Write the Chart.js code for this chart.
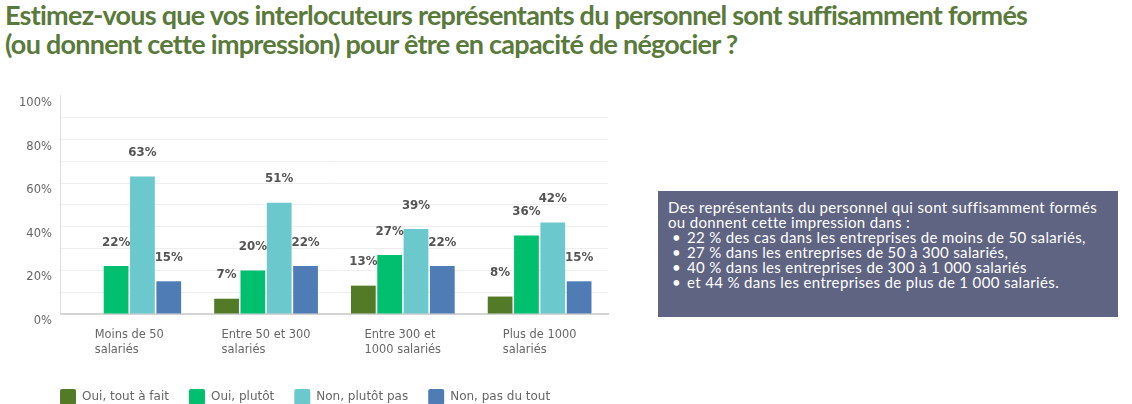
<!DOCTYPE html>
<html>
<head>
<meta charset="utf-8">
<script src="https://cdn.jsdelivr.net/npm/chart.js@4.4.1/dist/chart.umd.min.js"></script>
<style>
  html, body { margin: 0; padding: 0; background: #fff; overflow: hidden; }
  body { width: 1132px; height: 404px; position: relative; }
  #title {
    position: absolute; left: 5px; top: 0px;
    font-family: Lato, sans-serif; font-weight: 700; font-size: 27px;
    line-height: 29px; letter-spacing: -0.75px; color: #5a7a3c;
    white-space: nowrap;
  }
  #wrap { position: absolute; left: 0; top: 80px; width: 620px; height: 335px; }
  #note {
    position: absolute; left: 658px; top: 191px; width: 460px; height: 126px;
    box-sizing: border-box; padding: 9px 8px 0 10px;
    background: #5f6483; color: #fff;
    font-family: Lato, sans-serif; font-size: 15px; line-height: 15px;
    letter-spacing: 0.35px; white-space: nowrap;
  }
  #note .b { padding-left: 19px; position: relative; }
  #note .b::before { content: "•"; position: absolute; left: 4px; }
</style>
</head>
<body>
<div id="title">Estimez-vous que vos interlocuteurs représentants du personnel sont suffisamment formés<br>(ou donnent cette impression) pour être en capacité de négocier ?</div>
<div id="wrap"><canvas id="chart"></canvas></div>
<div id="note">
  <div>Des représentants du personnel qui sont suffisamment formés</div>
  <div>ou donnent cette impression dans :</div>
  <div class="b">22 % des cas dans les entreprises de moins de 50 salariés,</div>
  <div class="b">27 % dans les entreprises de 50 à 300 salariés,</div>
  <div class="b">40 % dans les entreprises de 300 à 1 000 salariés</div>
  <div class="b">et 44 % dans les entreprises de plus de 1 000 salariés.</div>
</div>
<script>
const categories = [
  ['Moins de 50', 'salariés'],
  ['Entre 50 et 300', 'salariés'],
  ['Entre 300 et', '1000 salariés'],
  ['Plus de 1000', 'salariés']
];
const seriesNames = ['Oui, tout à fait', 'Oui, plutôt', 'Non, plutôt pas', 'Non, pas du tout'];
const ouiToutAFait = [0, 7, 13, 8];
const ouiPlutot = [22, 20, 27, 36];
const nonPlutotPas = [63, 51, 39, 42];
const nonPasDuTout = [15, 22, 22, 15];
const colors = ['#537a26', '#00bf6f', '#6bc8cd', '#507cb6'];

const allSeries = [ouiToutAFait, ouiPlutot, nonPlutotPas, nonPasDuTout];

// value labels above the bars
const valueLabels = {
  id: 'valueLabels',
  afterDatasetsDraw(chart) {
    const ctx = chart.ctx;
    ctx.save();
    ctx.font = 'bold 11.8px "DejaVu Sans", sans-serif';
    ctx.fillStyle = '#545454';
    ctx.textAlign = 'center';
    ctx.textBaseline = 'middle';
    chart.data.datasets.forEach((ds, i) => {
      chart.getDatasetMeta(i).data.forEach((bar, j) => {
        const v = ds.data[j];
        if (!v) return;
        ctx.fillText(v + '%', bar.x, bar.y - 23.5);
      });
    });
    ctx.restore();
  }
};

// category labels: block centered under the group, lines left-aligned
const xLabels = {
  id: 'xLabels',
  afterDraw(chart) {
    const ctx = chart.ctx;
    const x = chart.scales.x;
    ctx.save();
    ctx.font = '11.4px "DejaVu Sans", sans-serif';
    ctx.fillStyle = '#666';
    ctx.textAlign = 'left';
    ctx.textBaseline = 'middle';
    categories.forEach((lines, i) => {
      const w = Math.max(...lines.map(l => ctx.measureText(l).width));
      const cx = x.getPixelForValue(i);
      lines.forEach((l, k) => {
        ctx.fillText(l, cx - w / 2, chart.chartArea.bottom + 21 + k * 15);
      });
    });
    ctx.restore();
  }
};

// legend starts a little right of the layout padding
const legendShift = {
  id: 'legendShift',
  afterLayout(chart) {
    chart.legend.left = 40;
  }
};

new Chart(document.getElementById('chart'), {
  type: 'bar',
  data: {
    labels: categories.map(c => c.join(' ')),
    datasets: seriesNames.map((name, i) => ({
      label: name,
      data: allSeries[i],
      backgroundColor: colors[i],
      borderWidth: 0,
      categoryPercentage: 0.77,
      barPercentage: 0.94
    }))
  },
  options: {
    responsive: true,
    maintainAspectRatio: false,
    animation: false,
    layout: { padding: { left: 10, right: 12, top: 7, bottom: 0 } },
    plugins: {
      tooltip: { enabled: false },
      legend: {
        position: 'bottom',
        align: 'start',
        labels: {
          boxWidth: 16,
          boxHeight: 16,
          useBorderRadius: true,
          borderRadius: 2,
          padding: 20,
          color: '#666',
          font: { family: '"DejaVu Sans", sans-serif', size: 12 }
        }
      }
    },
    scales: {
      x: {
        grid: { display: false },
        border: { color: '#d4d4d4', width: 2 },
        ticks: { display: false },
        afterFit(s) { s.height = 55; }
      },
      y: {
        min: 0,
        max: 100,
        border: { color: '#dedede', width: 1 },
        grid: {
          drawTicks: false,
          color: ctx => ctx.tick.value === 100 ? 'rgba(0,0,0,0)' : '#eeeeee'
        },
        ticks: {
          stepSize: 10,
          padding: 9,
          labelOffset: 7,
          color: '#666',
          font: { family: '"DejaVu Sans", sans-serif', size: 11.5 },
          callback: v => v % 20 === 0 ? v + '%' : ''
        }
      }
    }
  },
  plugins: [valueLabels, xLabels, legendShift]
});
</script>
</body>
</html>
